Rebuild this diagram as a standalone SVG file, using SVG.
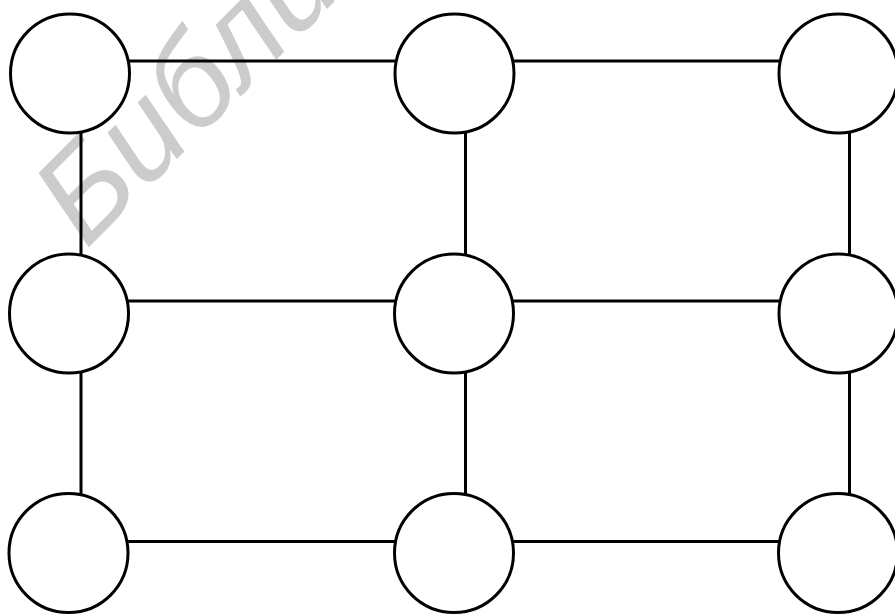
<svg xmlns="http://www.w3.org/2000/svg" width="895" height="614" viewBox="0 0 895 614">
  <style>
    .node { fill: #ffffff; stroke: #000000; stroke-width: 3; }
    .edge { stroke: #000000; stroke-width: 3; fill: none; }
    .wm { fill: #cccccc; font-family: "Liberation Sans", Arial, sans-serif; font-style: italic; font-size: 128px; }
  </style>
  <rect x="0" y="0" width="895" height="614" fill="#ffffff"/>
  <text class="wm" transform="translate(86,250) rotate(-45)">Библи</text>
  <g id="connectors">
    <line class="edge" x1="70" y1="61" x2="838" y2="61"/>
    <line class="edge" x1="70" y1="301" x2="838" y2="301"/>
    <line class="edge" x1="70" y1="541.5" x2="838" y2="541.5"/>
    <line class="edge" x1="81" y1="74" x2="81" y2="553"/>
    <line class="edge" x1="465.5" y1="74" x2="465.5" y2="553"/>
    <line class="edge" x1="849.5" y1="74" x2="849.5" y2="553"/>
  </g>
  <g id="n11"><circle class="node" cx="70" cy="73.5" r="59.5"/></g>
  <g id="n12"><circle class="node" cx="454.5" cy="73.5" r="59.5"/></g>
  <g id="n13"><circle class="node" cx="838.5" cy="73.5" r="59.5"/></g>
  <g id="n21"><circle class="node" cx="69" cy="313.5" r="59.5"/></g>
  <g id="n22"><circle class="node" cx="454" cy="313.5" r="59.5"/></g>
  <g id="n23"><circle class="node" cx="838.5" cy="313.5" r="59.5"/></g>
  <g id="n31"><circle class="node" cx="68.5" cy="553" r="59.5"/></g>
  <g id="n32"><circle class="node" cx="454" cy="553" r="59.5"/></g>
  <g id="n33"><circle class="node" cx="838" cy="553" r="59.5"/></g>
</svg>
